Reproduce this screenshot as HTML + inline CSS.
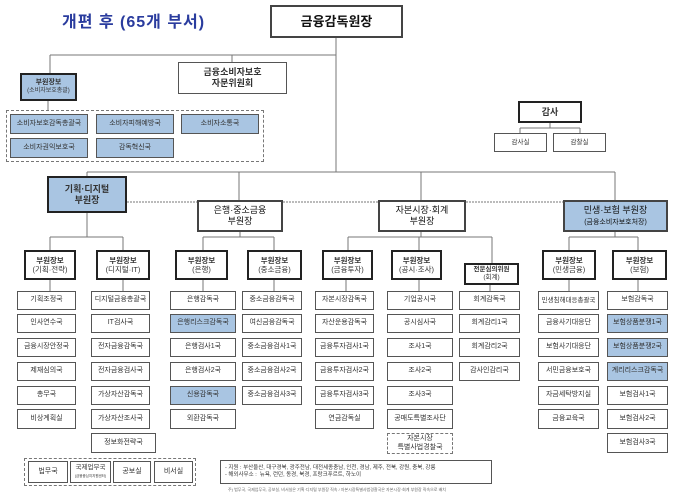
<!DOCTYPE html>
<html><head><meta charset="utf-8"><style>
*{margin:0;padding:0;box-sizing:border-box}
body{width:680px;height:496px;background:#fff;position:relative;overflow:hidden;font-family:"Liberation Sans","Noto Sans CJK KR",sans-serif;color:#222}
.b{position:absolute;border:1px solid #555;background:#fff;display:flex;align-items:center;justify-content:center;text-align:center;font-size:7px;line-height:1.2;color:#333;white-space:nowrap}
.t{border:2px solid #222}
.bl{background:#a9c5e2}
.d{border:1px dashed #777}
.h{font-weight:bold;font-size:7.5px}
.n{font-weight:normal}
svg{position:absolute;left:0;top:0}
</style></head><body>
<svg width="680" height="496">
<g stroke="#777" stroke-width="1" fill="none">
<path d="M336 37V172M50 55H336M50 55V73M232 55V62M87 172H615M87 172V176M239 172V200M421 172V200M615 172V200"/>
<path d="M48 100V110"/>
<path d="M550 123V128M520 128H580M520 128V133M580 128V133"/>
<path d="M87 213V237M50 237H123M50 237V250M123 237V250"/>
<path d="M240 232V237M203 237H274M203 237V250M274 237V250"/>
<path d="M421 232V237M348 237H492M348 237V250M419 237V250M492 237V263"/>
<path d="M615 232V237M569 237H638M569 237V250M638 237V250"/>
<path d="M50 279V291M123 279V291M203 279V291M274 279V291M346 279V291M419 279V291M490 284V291M569 279V291M638 279V291"/>
</g>
<path d="M127 202H601M235 202V205M429 202V205M601 202V205" stroke="#777" stroke-dasharray="2,1" fill="none"/>
</svg>
<div style="position:absolute;left:62px;top:8px;font-size:16px;font-weight:bold;color:#2a3c9e;letter-spacing:1px">개편 후 (65개 부서)</div>
<div class="b" style="left:270px;top:5px;width:133px;height:33px;font-size:13px;font-weight:bold;border:2px solid #444;color:#111">금융감독원장</div>
<div class="b" style="left:178px;top:62px;width:109px;height:32px;font-size:9px;font-weight:bold"><div>금융소비자보호<br>자문위원회</div></div>
<div class="b t bl h" style="left:20px;top:73px;width:57px;height:28px;font-size:7px"><div>부원장보<br><span class="n" style="font-size:6px">(소비자보호총괄)</span></div></div>
<div class="b d" style="left:6px;top:110px;width:258px;height:52px"></div>
<div class="b bl" style="left:10px;top:114px;width:78px;height:20px">소비자보호감독총괄국</div>
<div class="b bl" style="left:96px;top:114px;width:78px;height:20px">소비자피해예방국</div>
<div class="b bl" style="left:181px;top:114px;width:78px;height:20px">소비자소통국</div>
<div class="b bl" style="left:10px;top:138px;width:78px;height:20px">소비자권익보호국</div>
<div class="b bl" style="left:96px;top:138px;width:78px;height:20px">감독혁신국</div>
<div class="b t h" style="left:518px;top:101px;width:64px;height:22px;font-size:9px">감사</div>
<div class="b" style="left:494px;top:133px;width:53px;height:19px;font-size:6.5px">감사실</div>
<div class="b" style="left:553px;top:133px;width:53px;height:19px;font-size:6.5px">감찰실</div>
<div class="b t bl h" style="left:47px;top:176px;width:80px;height:37px;font-size:9px"><div>기획·디지털<br>부원장</div></div>
<div class="b" style="left:197px;top:200px;width:86px;height:32px;font-size:9px;border:2px solid #444;color:#111"><div>은행·중소금융<br>부원장</div></div>
<div class="b" style="left:378px;top:200px;width:88px;height:32px;font-size:9px;border:2px solid #444;color:#111"><div>자본시장·회계<br>부원장</div></div>
<div class="b bl" style="left:563px;top:200px;width:105px;height:32px;font-size:9px;border:2px solid #444;color:#111"><div>민생·보험 부원장<br><span style="font-size:7px">(금융소비자보호처장)</span></div></div>

<div class="b t h" style="left:24px;top:250px;width:52px;height:30px"><div>부원장보<br><span class="n">(기획·전략)</span></div></div>
<div class="b t h" style="left:96px;top:250px;width:54px;height:30px"><div>부원장보<br><span class="n">(디지털·IT)</span></div></div>
<div class="b t h" style="left:175px;top:250px;width:53px;height:30px"><div>부원장보<br><span class="n">(은행)</span></div></div>
<div class="b t h" style="left:247px;top:250px;width:55px;height:30px"><div>부원장보<br><span class="n">(중소금융)</span></div></div>
<div class="b t h" style="left:322px;top:250px;width:51px;height:30px"><div>부원장보<br><span class="n">(금융투자)</span></div></div>
<div class="b t h" style="left:391px;top:250px;width:51px;height:30px"><div>부원장보<br><span class="n">(공시·조사)</span></div></div>
<div class="b t h" style="left:464px;top:263px;width:55px;height:22px;font-size:6.5px"><div>전문심의위원<br><span class="n">(회계)</span></div></div>
<div class="b t h" style="left:542px;top:250px;width:54px;height:30px"><div>부원장보<br><span class="n">(민생금융)</span></div></div>
<div class="b t h" style="left:612px;top:250px;width:55px;height:30px"><div>부원장보<br><span class="n">(보험)</span></div></div>

<div class="b" style="left:17px;top:291px;width:59px;height:19px">기획조정국</div>
<div class="b" style="left:17px;top:314px;width:59px;height:19px">인사연수국</div>
<div class="b" style="left:17px;top:338px;width:59px;height:19px">금융시장안정국</div>
<div class="b" style="left:17px;top:362px;width:59px;height:19px">제재심의국</div>
<div class="b" style="left:17px;top:386px;width:59px;height:19px">총무국</div>
<div class="b" style="left:17px;top:409px;width:59px;height:20px">비상계획실</div>

<div class="b" style="left:91px;top:291px;width:59px;height:19px">디지털금융총괄국</div>
<div class="b" style="left:91px;top:314px;width:59px;height:19px">IT검사국</div>
<div class="b" style="left:91px;top:338px;width:59px;height:19px">전자금융감독국</div>
<div class="b" style="left:91px;top:362px;width:59px;height:19px">전자금융검사국</div>
<div class="b" style="left:91px;top:386px;width:59px;height:19px">가상자산감독국</div>
<div class="b" style="left:91px;top:409px;width:59px;height:20px">가상자산조사국</div>
<div class="b" style="left:91px;top:433px;width:65px;height:20px">정보화전략국</div>

<div class="b" style="left:170px;top:291px;width:66px;height:19px">은행감독국</div>
<div class="b bl" style="left:170px;top:314px;width:66px;height:19px">은행리스크감독국</div>
<div class="b" style="left:170px;top:338px;width:66px;height:19px">은행검사1국</div>
<div class="b" style="left:170px;top:362px;width:66px;height:19px">은행검사2국</div>
<div class="b bl" style="left:170px;top:386px;width:66px;height:19px">신용감독국</div>
<div class="b" style="left:170px;top:409px;width:66px;height:20px">외환감독국</div>

<div class="b" style="left:242px;top:291px;width:60px;height:19px">중소금융감독국</div>
<div class="b" style="left:242px;top:314px;width:60px;height:19px">여신금융감독국</div>
<div class="b" style="left:242px;top:338px;width:60px;height:19px">중소금융검사1국</div>
<div class="b" style="left:242px;top:362px;width:60px;height:19px">중소금융검사2국</div>
<div class="b" style="left:242px;top:386px;width:60px;height:19px">중소금융검사3국</div>

<div class="b" style="left:315px;top:291px;width:59px;height:19px">자본시장감독국</div>
<div class="b" style="left:315px;top:314px;width:59px;height:19px">자산운용감독국</div>
<div class="b" style="left:315px;top:338px;width:59px;height:19px">금융투자검사1국</div>
<div class="b" style="left:315px;top:362px;width:59px;height:19px">금융투자검사2국</div>
<div class="b" style="left:315px;top:386px;width:59px;height:19px">금융투자검사3국</div>
<div class="b" style="left:315px;top:409px;width:59px;height:20px">연금감독실</div>

<div class="b" style="left:387px;top:291px;width:66px;height:19px">기업공시국</div>
<div class="b" style="left:387px;top:314px;width:66px;height:19px">공시심사국</div>
<div class="b" style="left:387px;top:338px;width:66px;height:19px">조사1국</div>
<div class="b" style="left:387px;top:362px;width:66px;height:19px">조사2국</div>
<div class="b" style="left:387px;top:386px;width:66px;height:19px">조사3국</div>
<div class="b" style="left:387px;top:409px;width:66px;height:20px">공매도특별조사단</div>
<div class="b d" style="left:387px;top:433px;width:66px;height:21px"><div>자본시장<br>특별사법경찰국</div></div>

<div class="b" style="left:459px;top:291px;width:61px;height:19px">회계감독국</div>
<div class="b" style="left:459px;top:314px;width:61px;height:19px">회계감리1국</div>
<div class="b" style="left:459px;top:338px;width:61px;height:19px">회계감리2국</div>
<div class="b" style="left:459px;top:362px;width:61px;height:19px">감사인감리국</div>

<div class="b" style="left:538px;top:291px;width:61px;height:19px;font-size:6.5px">민생침해대응총괄국</div>
<div class="b" style="left:538px;top:314px;width:61px;height:19px">금융사기대응단</div>
<div class="b" style="left:538px;top:338px;width:61px;height:19px">보험사기대응단</div>
<div class="b" style="left:538px;top:362px;width:61px;height:19px">서민금융보호국</div>
<div class="b" style="left:538px;top:386px;width:61px;height:19px">자금세탁방지실</div>
<div class="b" style="left:538px;top:409px;width:61px;height:20px">금융교육국</div>

<div class="b" style="left:607px;top:291px;width:61px;height:19px">보험감독국</div>
<div class="b bl" style="left:607px;top:314px;width:61px;height:19px">보험상품분쟁1국</div>
<div class="b bl" style="left:607px;top:338px;width:61px;height:19px">보험상품분쟁2국</div>
<div class="b bl" style="left:607px;top:362px;width:61px;height:19px">계리리스크감독국</div>
<div class="b" style="left:607px;top:386px;width:61px;height:19px">보험검사1국</div>
<div class="b" style="left:607px;top:409px;width:61px;height:20px">보험검사2국</div>
<div class="b" style="left:607px;top:433px;width:61px;height:20px">보험검사3국</div>

<div class="b d" style="left:24px;top:458px;width:172px;height:28px"></div>
<div class="b" style="left:28px;top:461px;width:40px;height:22px">법무국</div>
<div class="b" style="left:70px;top:461px;width:41px;height:22px;font-size:6.5px"><div>국제업무국<br><span style="font-size:3.5px">(금융중심지지원센터)</span></div></div>
<div class="b" style="left:113px;top:461px;width:38px;height:22px">공보실</div>
<div class="b" style="left:154px;top:461px;width:39px;height:22px">비서실</div>
<div class="b" style="left:220px;top:460px;width:272px;height:24px;font-size:5.5px;justify-content:flex-start;text-align:left;padding-left:4px"><div>- 지원 : 부산울산, 대구경북, 광주전남, 대전세종충남, 인천, 경남, 제주, 전북, 강원, 충북, 강릉<br>- 해외사무소 :&nbsp; 뉴욕, 런던, 동경, 북경, 프랑크푸르트, 하노이</div></div>
<div style="position:absolute;left:228px;top:487px;font-size:4px;color:#666;white-space:nowrap">주) 법무국, 국제업무국, 공보실, 비서실은 기획·디지털 부원장 직속 / 자본시장특별사법경찰국은 자본시장·회계 부원장 직속으로 배치</div>
</body></html>
